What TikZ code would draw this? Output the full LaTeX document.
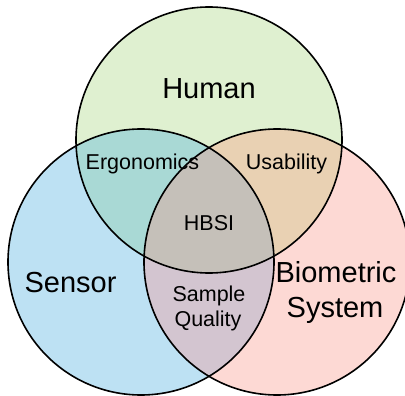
\documentclass[tikz,border=0pt]{standalone}
\usepackage{fontspec}
\setmainfont{Liberation Sans}
\definecolor{humanfill}{HTML}{DFF0D0}
\definecolor{sensorfill}{HTML}{BDE1F3}
\definecolor{bsysfill}{HTML}{FDD9D4}
\definecolor{ergofill}{HTML}{A9D9D5}
\definecolor{usabfill}{HTML}{E9D1B3}
\definecolor{sqfill}{HTML}{D3C5D0}
\definecolor{hbsifill}{HTML}{C5C0B9}
\begin{document}
\begin{tikzpicture}[x=1pt,y=-1pt,
  ring/.style={line width=1.6pt, draw=black},
  big/.style={font=\fontsize{29}{34}\selectfont, anchor=base},
  small/.style={font=\fontsize{21.5}{25}\selectfont, anchor=base}]
\useasboundingbox (0,0) rectangle (405,396);
\def\R{133pt}
\coordinate (H) at (209,140);
\coordinate (S) at (141,262);
\coordinate (B) at (277,262);
% set fills
\fill[humanfill] (H) circle (\R);
\fill[sensorfill] (S) circle (\R);
\fill[bsysfill] (B) circle (\R);
% pairwise overlaps
\begin{scope}
  \clip (H) circle (\R);
  \fill[ergofill] (S) circle (\R);
\end{scope}
\begin{scope}
  \clip (H) circle (\R);
  \fill[usabfill] (B) circle (\R);
\end{scope}
\begin{scope}
  \clip (S) circle (\R);
  \fill[sqfill] (B) circle (\R);
\end{scope}
% triple overlap
\begin{scope}
  \clip (H) circle (\R);
  \clip (S) circle (\R);
  \fill[hbsifill] (B) circle (\R);
\end{scope}
% outlines
\draw[ring] (H) circle (\R);
\draw[ring] (S) circle (\R);
\draw[ring] (B) circle (\R);
% labels
\node[big] (human) at (209,99) {Human};
\node[big] (sensor) at (70.5,292) {Sensor};
\node[big] (bio1) at (336,282) {Biometric};
\node[big] (bio2) at (335,317) {System};
\node[small] (ergo) at (142.5,170) {Ergonomics};
\node[small] (usab) at (286.5,170) {Usability};
\node[small] (hbsi) at (209,230) {HBSI};
\node[small] (sq1) at (209,301) {Sample};
\node[small] (sq2) at (208,326) {Quality};
\end{tikzpicture}
\end{document}
